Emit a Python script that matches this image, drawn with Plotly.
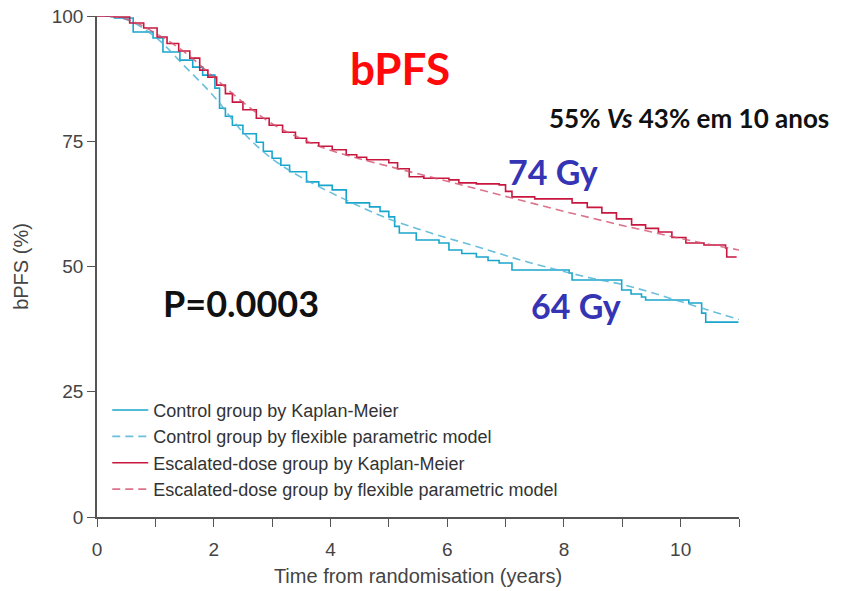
import plotly.graph_objects as go

# Kaplan-Meier step points: time (years) and bPFS (%)
ctrl_km_t = [0, 0.3, 0.62, 0.96, 1.13, 1.42, 1.64, 1.81, 2.02, 2.1, 2.2, 2.32, 2.5, 2.73, 2.85,
             3.0, 3.15, 3.3, 3.59, 3.8, 4.03, 4.27, 4.67, 4.85, 5.0, 5.1, 5.18, 5.47, 5.86, 6.03,
             6.25, 6.5, 6.7, 6.89, 7.11, 7.74, 8.09, 8.14, 8.94, 8.99, 9.15, 9.33, 9.4, 10.14,
             10.36, 10.43, 10.99]
ctrl_km_v = [100, 99.6, 96.8, 95.6, 92.8, 91.2, 89.8, 88.2, 85.6, 81.6, 80.0, 78.2, 76.5, 74.8, 73.0,
             71.6, 70.2, 68.9, 66.9, 66.2, 65.3, 62.7, 61.9, 61.0, 59.9, 58.0, 56.7, 55.3, 54.7, 53.3,
             52.6, 51.9, 51.2, 50.7, 49.3, 49.3, 48.7, 47.3, 47.3, 45.3, 44.5, 43.9, 43.3, 42.7,
             40.7, 38.9, 38.9]

esc_km_t = [0, 0.3, 0.56, 0.8, 1.03, 1.2, 1.4, 1.59, 1.76, 1.9, 2.05, 2.2, 2.32, 2.5, 2.73, 2.95,
            3.18, 3.4, 3.59, 3.8, 4.03, 4.27, 4.45, 4.62, 5.0, 5.15, 5.35, 5.6, 6.03, 6.2, 6.5,
            6.89, 7.0, 7.11, 7.5, 8.14, 8.4, 8.65, 8.9, 9.16, 9.4, 9.62, 9.85, 10.09, 10.4, 10.77,
            10.79, 10.96]
esc_km_v = [100, 99.8, 98.6, 97.6, 95.8, 94.5, 93.0, 91.6, 89.2, 87.8, 86.2, 84.5, 82.8, 81.3, 79.6, 78.2,
            76.8, 75.6, 74.7, 74.0, 73.3, 72.3, 71.8, 71.3, 70.7, 69.5, 67.9, 67.6, 67.3, 66.7, 66.5,
            66.3, 65.0, 63.9, 63.5, 62.7, 61.8, 60.7, 59.5, 58.3, 57.6, 56.9, 55.8, 54.7, 54.3, 53.7,
            51.9, 51.9]

# Flexible parametric model fits
fit_t = [0, 0.5, 1, 1.5, 2, 2.5, 3, 3.5, 4, 4.5, 5, 5.5, 6, 6.5, 7, 7.5, 8, 8.5, 9, 9.5, 10, 10.5, 11]
ctrl_fit_v = [100, 99.3, 95.8, 90.0, 84.0, 76.8, 71.5, 67.8, 64.8, 62.0, 59.5, 57.5, 55.7, 54.0, 52.2,
              50.5, 49.0, 47.6, 46.4, 44.8, 43.0, 41.2, 39.4]
esc_fit_v = [100, 99.4, 96.6, 92.8, 87.8, 82.8, 78.5, 75.5, 73.2, 71.5, 70.0, 68.5, 67.0, 65.5, 64.0,
             62.5, 61.0, 59.6, 58.2, 56.9, 55.6, 54.4, 53.3]

series_names = [
    "Control group by Kaplan-Meier",
    "Control group by flexible parametric model",
    "Escalated-dose group by Kaplan-Meier",
    "Escalated-dose group by flexible parametric model",
]

x_tick_vals = list(range(0, 12))
x_tick_text = ["0", "", "2", "", "4", "", "6", "", "8", "", "10", ""]
y_tick_vals = [0, 25, 50, 75, 100]

CYAN = "#1aa6cc"
CYAN_FIT = "rgba(80,180,215,0.85)"
RED = "#c8173f"
RED_FIT = "rgba(210,80,110,0.8)"

fig = go.Figure()
fig.add_trace(go.Scatter(x=ctrl_km_t, y=ctrl_km_v, mode="lines", line_shape="hv",
                         line=dict(color=CYAN, width=1.6), name=series_names[0]))
fig.add_trace(go.Scatter(x=fit_t, y=ctrl_fit_v, mode="lines", line_shape="spline",
                         line=dict(color=CYAN_FIT, width=1.6, dash="8px,5px"), name=series_names[1]))
fig.add_trace(go.Scatter(x=esc_km_t, y=esc_km_v, mode="lines", line_shape="hv",
                         line=dict(color=RED, width=1.6), name=series_names[2]))
fig.add_trace(go.Scatter(x=fit_t, y=esc_fit_v, mode="lines", line_shape="spline",
                         line=dict(color=RED_FIT, width=1.6, dash="8px,5px"), name=series_names[3]))

narrow = "Liberation Sans Narrow, Arial Narrow, sans-serif"
tick_font = dict(family=narrow, size=19, color="#444")
title_font = dict(family=narrow, size=20, color="#444")

fig.update_layout(
    width=853, height=591,
    margin=dict(l=97, r=114, t=16, b=74),
    plot_bgcolor="white", paper_bgcolor="white",
    showlegend=True,
    legend=dict(x=0.016, y=0.25, xanchor="left", yanchor="top",
                font=dict(family=narrow, size=18, color="#333"),
                bgcolor="rgba(0,0,0,0)", itemwidth=36, tracegroupgap=0),
    xaxis=dict(range=[0, 11], tickvals=x_tick_vals, ticktext=x_tick_text,
               ticks="outside", ticklen=8, tickcolor="#555", tickwidth=1.3,
               showline=True, linecolor="#555", linewidth=1.5,
               showgrid=False, zeroline=False, tickfont=tick_font,
               ticklabelstandoff=6, automargin=False,
               title=dict(text="Time from randomisation (years)", font=title_font, standoff=10)),
    yaxis=dict(range=[0, 100], tickvals=y_tick_vals,
               ticks="outside", ticklen=8, tickcolor="#555", tickwidth=1.3,
               showline=True, linecolor="#555", linewidth=1.5,
               showgrid=False, zeroline=False, tickfont=tick_font, automargin=False,
               title=dict(text="bPFS (%)", font=title_font, standoff=18)),
)

bold_font = "Lato, Carlito, Calibri, sans-serif"


def label(x, y, text, size, color):
    fig.add_annotation(x=x, y=y, xref="x", yref="y", xanchor="center", yanchor="middle",
                       showarrow=False, text=text,
                       font=dict(family=bold_font, size=size, color=color))


label(5.19, 89.6, "<b>bPFS</b>", 44, "#ff0a0a")
label(10.15, 79.6, "<b>55% <i>Vs</i> 43% em 10 anos</b>", 26, "#111")
label(2.47, 42.7, "<b>P=0.0003</b>", 36, "#111")
label(7.81, 68.9, "<b>74 Gy</b>", 34, "#3434b4")
label(8.2, 42.3, "<b>64 Gy</b>", 34, "#3434b4")

fig.write_html("out.html")
